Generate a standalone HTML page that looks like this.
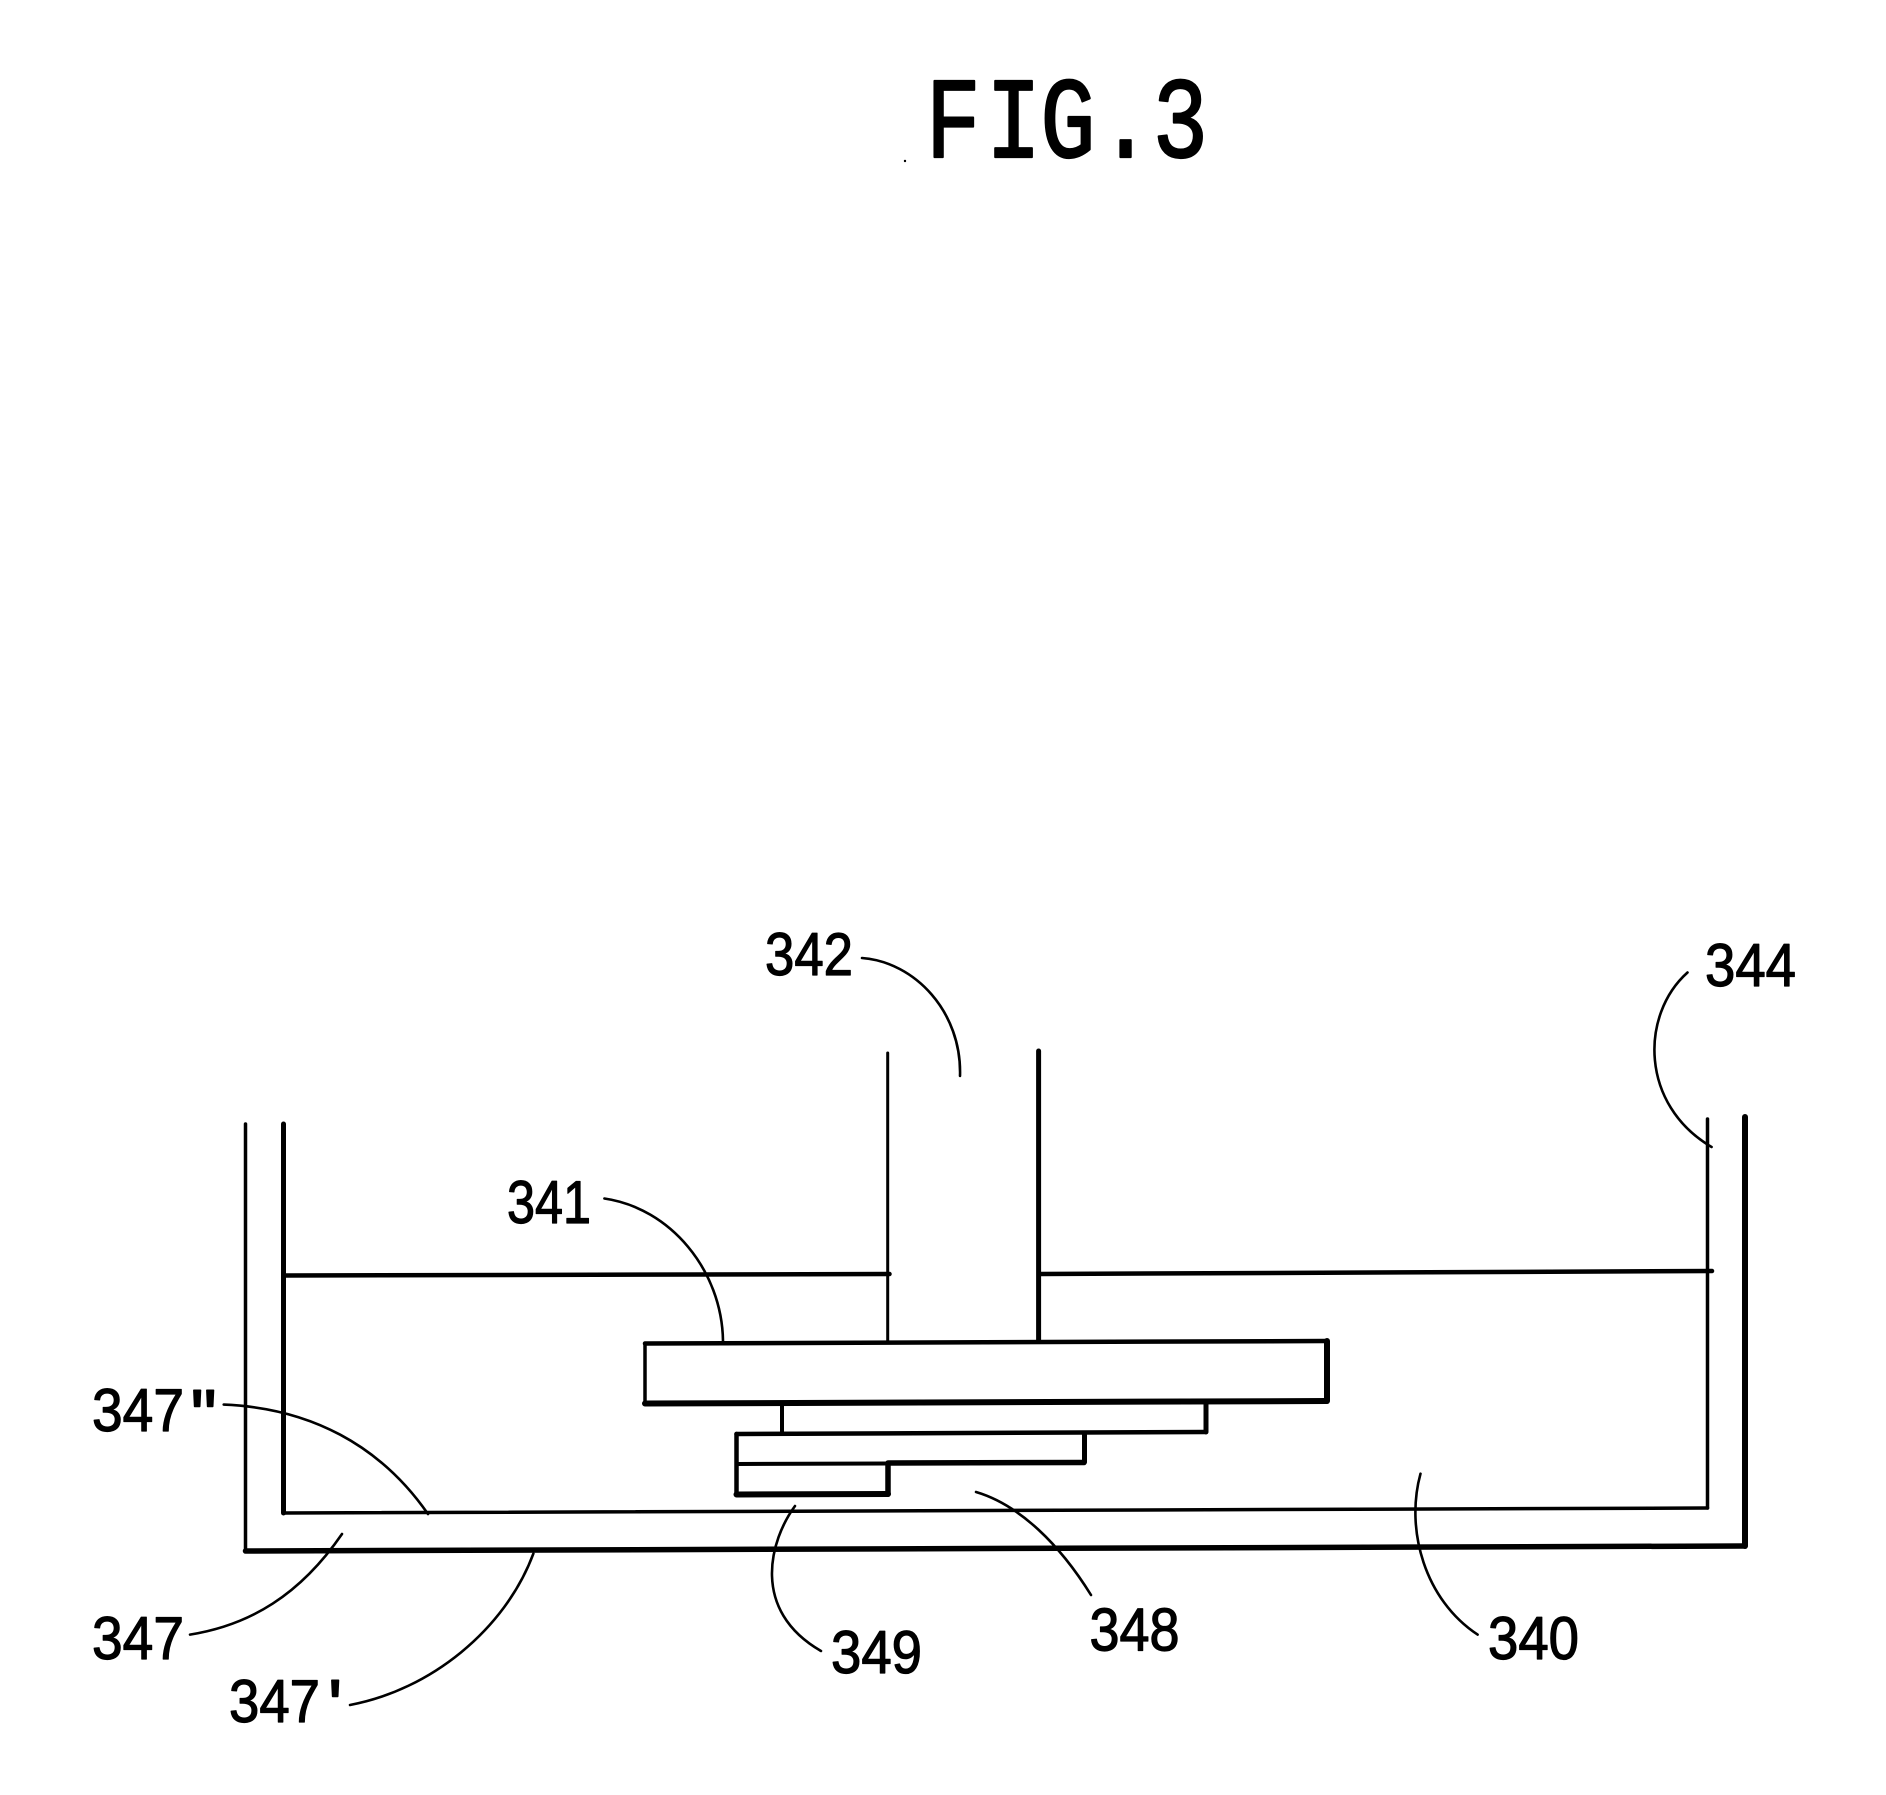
<!DOCTYPE html>
<html>
<head>
<meta charset="utf-8">
<style>
html,body{margin:0;padding:0;background:#fff;}
svg{display:block;}
text{fill:#000;stroke:#000;stroke-width:1.2;stroke-linejoin:round;font-family:"Liberation Sans",sans-serif;font-size:60px;}
.f{font-family:"Liberation Mono",monospace;font-size:115px;stroke-width:2.2;}
.t{font-size:75px;stroke-width:1.5;}
</style>
</head>
<body>
<svg width="1886" height="1795" viewBox="0 0 1886 1795" xmlns="http://www.w3.org/2000/svg">
<rect width="1886" height="1795" fill="#fff"/>

<!-- Title -->
<text class="f" transform="scale(0.8,1)" x="1157 1232.5 1300.5 1372.5 1441" y="157">FIG.3</text>
<circle cx="905" cy="161" r="1.2" fill="#000"/>

<g fill="none" stroke="#000" stroke-linecap="round" stroke-linejoin="round">
  <!-- Outer vessel -->
  <path d="M245.5 1124 L245.5 1551" stroke-width="3.5"/>
  <path d="M245.5 1551 L1745 1546" stroke-width="5.5"/>
  <path d="M1745 1546 L1745 1117" stroke-width="6"/>
  <!-- Inner vessel -->
  <path d="M283.5 1124 L283.5 1513" stroke-width="5"/>
  <path d="M283.5 1513 L1707.5 1508" stroke-width="3.5"/>
  <path d="M1707.5 1508 L1707.5 1119" stroke-width="3.5"/>
  <!-- Tube -->
  <path d="M887.7 1053 L887.7 1342" stroke-width="3"/>
  <path d="M1038.6 1051 L1038.6 1341" stroke-width="5"/>
  <!-- Liquid level -->
  <path d="M285.5 1275.5 L889.5 1274" stroke-width="4.5"/>
  <path d="M1041 1274 L1712 1271" stroke-width="4.5"/>
  <!-- Large plate -->
  <path d="M645 1343.5 L1326 1341" stroke-width="4.5"/>
  <path d="M645 1343.5 L645 1403" stroke-width="3.5"/>
  <path d="M645 1403.5 L1326.5 1401" stroke-width="6"/>
  <path d="M1327 1341 L1327 1401" stroke-width="6"/>
  <!-- Stepped layers -->
  <path d="M782 1404 L782 1433" stroke-width="4"/>
  <path d="M736.5 1434 L1205 1432" stroke-width="4.5"/>
  <path d="M1206 1403 L1206 1432" stroke-width="5"/>
  <path d="M736.5 1434 L736.5 1493" stroke-width="4.5"/>
  <path d="M736.5 1464 L888 1463.5" stroke-width="4"/>
  <path d="M888 1463 L1084 1462.5" stroke-width="5.5"/>
  <path d="M1084.5 1433 L1084.5 1462" stroke-width="5"/>
  <path d="M888 1464 L888 1494" stroke-width="5.5"/>
  <path d="M736.5 1494.5 L888 1494" stroke-width="6"/>
  <!-- Leader lines -->
  <g stroke-width="2.6">
    <path d="M862 958 C915 962 962 1012 960 1076"/>
    <path d="M1687.5 972.5 C1640 1015 1640 1105 1711.6 1147"/>
    <path d="M604.4 1198.5 C670 1208 722 1270 723 1341"/>
    <path d="M223.7 1404.6 C310 1408 380 1445 428 1514"/>
    <path d="M190 1634.6 C250 1625 300 1595 342 1534"/>
    <path d="M350 1705 C430 1690 505 1630 533.4 1553.6"/>
    <path d="M795 1506 C770 1540 750 1610 821 1651"/>
    <path d="M976 1492 C1020 1505 1060 1545 1091 1595"/>
    <path d="M1420.5 1473.7 C1405 1530 1425 1600 1477.6 1634.6"/>
  </g>
</g>

<!-- Labels -->
<text x="765" y="975" textLength="88" lengthAdjust="spacingAndGlyphs">342</text>
<text x="507" y="1223" textLength="84" lengthAdjust="spacingAndGlyphs">341</text>
<text x="92" y="1431" textLength="92" lengthAdjust="spacingAndGlyphs">347</text>
<text class="t" x="190 203" y="1442">''</text>
<text x="229" y="1722" textLength="91" lengthAdjust="spacingAndGlyphs">347</text>
<text class="t" x="328" y="1732">'</text>
<text x="92" y="1659" textLength="92" lengthAdjust="spacingAndGlyphs">347</text>
<text x="831" y="1673" textLength="91" lengthAdjust="spacingAndGlyphs">349</text>
<text x="1089.5" y="1650.5" textLength="90" lengthAdjust="spacingAndGlyphs">348</text>
<text x="1488" y="1659" textLength="91" lengthAdjust="spacingAndGlyphs">340</text>
<text x="1705" y="986" textLength="91" lengthAdjust="spacingAndGlyphs">344</text>
</svg>
</body>
</html>
